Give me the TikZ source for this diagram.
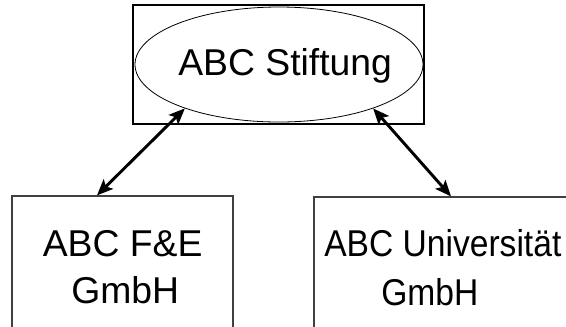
\documentclass[tikz,border=0pt]{standalone}
\usepackage{fontspec}
\setmainfont{Liberation Sans}
\usepackage{graphicx}
\usetikzlibrary{shapes.geometric,arrows.meta,calc}
\begin{document}
\begin{tikzpicture}[x=0.75pt,y=-0.75pt,
  boxnode/.style={draw=black!75,line width=0.9pt,rectangle,inner sep=0pt},
  topbox/.style={draw=black,line width=0.8pt,rectangle,inner sep=0pt},
  ellnode/.style={draw=black,line width=0.6pt,ellipse,inner sep=0pt},
  txt/.style={inner sep=0pt,anchor=base west,font=\fontsize{28}{34}\selectfont},
  link/.style={line width=2.2pt,{Stealth[length=12pt,width=10pt,inset=2.5pt]}-{Stealth[length=12pt,width=10pt,inset=2.5pt]}}
]
\clip (0,0) rectangle (566,326);
\fill[white] (0,0) rectangle (566,326);
% top
\node[topbox,minimum width=218.25pt,minimum height=89.25pt] (top) at (278.5,64.5) {};
\node[ellnode,minimum width=216pt,minimum height=86.25pt] (ell) at (279,64.5) {};
\node[txt] (ttxt) at (178,75) {ABC Stiftung};
% left box
\node[boxnode,minimum width=165.75pt,minimum height=153pt] (lbox) at (122.5,298) {};
\node[txt] (l1) at (42.5,256) {ABC F\&E};
\node[txt] (l2) at (71,303) {GmbH};
% right box
\node[boxnode,minimum width=225pt,minimum height=153pt] (rbox) at (464,299) {};
\node[txt] (r1) at (324,256) {\scalebox{0.9}[1]{ABC Universität}};
\node[txt] (r2) at (381,305) {\scalebox{0.9}[1]{GmbH}};
% connectors
\draw[link] (ell.-155) -- ($(lbox.north west)!0.385!(lbox.north east)$);
\draw[link] (ell.-25.3) -- ($(rbox.north west)!0.457!(rbox.north east)$);
\end{tikzpicture}
\end{document}
